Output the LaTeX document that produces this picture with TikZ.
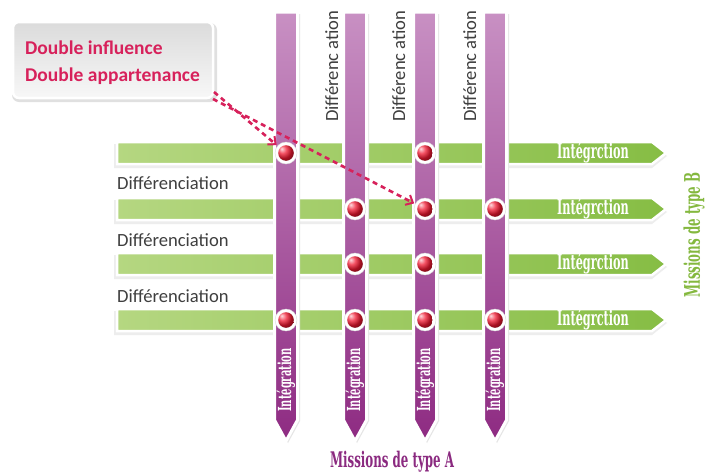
\documentclass[tikz,border=0pt]{standalone}
\usepackage{fontspec}
\setmainfont{Carlito}
\newfontfamily\slab[FakeStretch=0.62]{DejaVu Serif}
\newfontfamily\slabn[FakeStretch=0.55]{DejaVu Serif}
\usetikzlibrary{arrows.meta,shadings}
\definecolor{crim}{HTML}{D7215B}
\definecolor{pTop}{HTML}{C890C3}
\definecolor{pBot}{HTML}{8E2B82}
\definecolor{gL}{HTML}{B5D781}
\definecolor{gR}{HTML}{86BD44}
\definecolor{ptext}{HTML}{8B2A80}
\definecolor{gtext}{HTML}{84B83E}
\definecolor{dtext}{HTML}{3F3F3F}
\definecolor{dotred}{HTML}{F01830}
\tikzset{
  calloutbox/.style={rectangle, rounded corners=6pt, draw=white, line width=2.5pt,
    top color=black!14, bottom color=black!3, minimum width=200pt, minimum height=76pt, inner sep=0pt},
  callouttext/.style={anchor=base west, inner sep=0pt, text=crim, font=\bfseries\fontsize{19.5}{22}\selectfont},
  difftext/.style={inner sep=0pt, text=dtext, font=\fontsize{18.6}{22}\selectfont},
  greenbar/.style={draw=white, line width=2.5pt, left color=gL, right color=gR},
  purplebar/.style={draw=white, line width=3pt, top color=pTop, bottom color=pBot},
  hlabel/.style={inner sep=0pt, text=white, font=\slabn\bfseries\fontsize{20.5}{22}\selectfont},
  vlabel/.style={inner sep=0pt, rotate=90, text=white, font=\slabn\bfseries\fontsize{18}{20}\selectfont},
  dot/.style={circle, minimum size=22pt, inner sep=0pt, fill=white, draw=black!15, line width=0.4pt,
    path picture={\shade[ball color=dotred] (path picture bounding box.center) circle (7.8pt);}},
  dasharrow/.style={crim, line width=2.6pt, dash pattern=on 5pt off 4pt, shorten >=1pt,
    -{Straight Barb[length=6pt,width=11pt,line width=2pt]}},
  missiontext/.style={inner sep=0pt, font=\slabn\bfseries\fontsize{21.5}{24}\selectfont}
}
\begin{document}
\begin{tikzpicture}[x=1pt,y=-1pt]
\useasboundingbox (0,0) rectangle (709,474);
\fill[white] (0,0) rectangle (709,474);
% callout
\fill[black!12, rounded corners=7pt] (12,23) rectangle (217,102);
\node[calloutbox] (callout) at (113,60) {};
\node[callouttext] (t1) at (25,54) {Double influence};
\node[callouttext] (t2) at (25,81) {Double appartenance};
% green bars
\foreach \cy in {153,209,264,320}{
  \fill[black!7] (114,\cy-9) -- (652,\cy-9) -- (667,\cy+3) -- (652,\cy+15) -- (114,\cy+15) -- cycle;
  \path[greenbar] (117,\cy-11) -- (652,\cy-11) -- (666,\cy) -- (652,\cy+11) -- (117,\cy+11) -- cycle;
}
% purple bars
\foreach \cx in {286,355,425,495}{
  \fill[black!10] (\cx-10,14) -- (\cx+14,14) -- (\cx+14,421) -- (\cx+2,443) -- (\cx-10,421) -- cycle;
  \path[purplebar] (\cx-11.5,12) -- (\cx+11.5,12) -- (\cx+11.5,420) -- (\cx,441) -- (\cx-11.5,420) -- cycle;
}
\foreach \cx/\n in {286/1,355/2,425/3,495/4}{
  \node[vlabel] (ia\n) at (\cx,380) {Intégration};
}
% horizontal labels
\foreach \cy/\n in {153/1,209/2,264/3,320/4}{
  \node[hlabel] (ib\n) at (593,\cy) {Intégrction};
}
\node[difftext, anchor=base west] (dl1) at (117,189) {Différenciation};
\node[difftext, anchor=base west] (dl2) at (117,246) {Différenciation};
\node[difftext, anchor=base west] (dl3) at (117,302) {Différenciation};
\node[difftext, rotate=90, anchor=base west] (dv1) at (338,122) {Différenc ation};
\node[difftext, rotate=90, anchor=base west] (dv2) at (405,122) {Différenc ation};
\node[difftext, rotate=90, anchor=base west] (dv3) at (476,122) {Différenc ation};
% dots
\node[dot] (d11) at (286,153) {};
\node[dot] (d13) at (425,153) {};
\node[dot] (d22) at (355,209) {};
\node[dot] (d23) at (425,209) {};
\node[dot] (d24) at (495,209) {};
\node[dot] (d32) at (355,264) {};
\node[dot] (d33) at (425,264) {};
\node[dot] (d41) at (286,320) {};
\node[dot] (d42) at (355,320) {};
\node[dot] (d43) at (425,320) {};
\node[dot] (d44) at (495,320) {};
% missions
\node[missiontext, text=ptext] (ma) at (392,462) {Missions de type A};
\node[missiontext, text=gtext, rotate=90] (mb) at (694,235) {Missions de type B};
% arrows
\coordinate (a1) at (214,92);
\coordinate (a2) at (213,99);
\draw[dasharrow] (a1) -- (d11);
\draw[dasharrow] (a2) -- (d23);
\end{tikzpicture}
\end{document}
